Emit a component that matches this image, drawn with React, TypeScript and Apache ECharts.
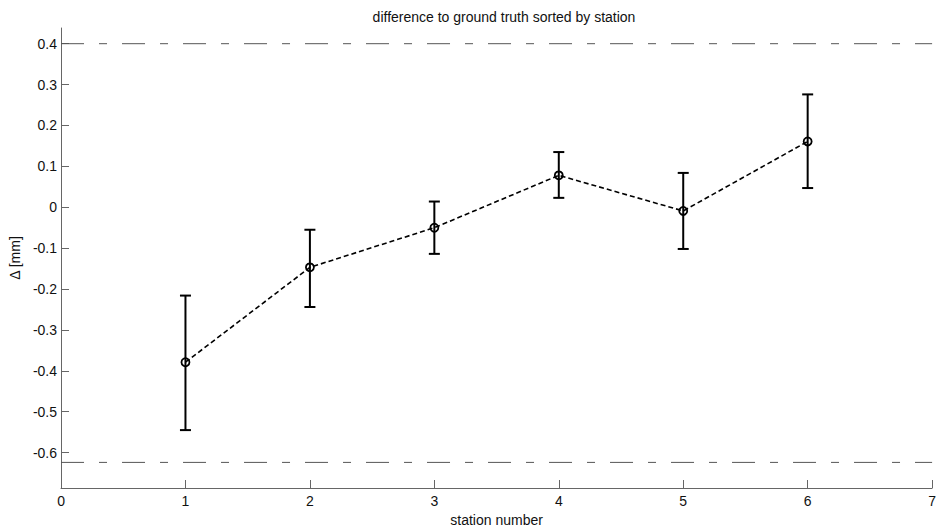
import React, { useEffect, useRef } from "react";
import * as echarts from "echarts";

const stations = [1, 2, 3, 4, 5, 6];
const meanDiff = [-0.379, -0.147, -0.05, 0.078, -0.009, 0.161];
const lowerErr = [-0.545, -0.244, -0.114, 0.023, -0.102, 0.047];
const upperErr = [-0.216, -0.055, 0.014, 0.135, 0.084, 0.276];
const upperLimit = 0.4;
const lowerLimit = -0.624;
const yTicks = [-0.6, -0.5, -0.4, -0.3, -0.2, -0.1, 0, 0.1, 0.2, 0.3, 0.4];
const xRange = [0, 7];
const yRange = [-0.6866, 0.4384];

const FONT = "'Liberation Sans', Arial, sans-serif";
const FS = 14;

export default function App() {
  const ref = useRef<HTMLDivElement>(null);
  useEffect(() => {
    if (!ref.current) return;
    const chart = echarts.init(ref.current, undefined, { renderer: "svg" });
    const errData = stations.map((s, i) => [s, lowerErr[i], upperErr[i]]);
    const limitStyle = {
      color: "#555",
      width: 1,
      type: [23, 15, 8, 15] as any,
    };
    chart.setOption({
      animation: false,
      backgroundColor: "#fff",
      textStyle: { fontFamily: FONT },
      title: {
        text: "difference to ground truth sorted by station",
        left: 499,
        textAlign: "center",
        top: 5,
        textStyle: { fontFamily: FONT, fontSize: FS, fontWeight: "normal", color: "#111" },
      },
      grid: { left: 60, right: 1, top: 28, bottom: 40, containLabel: false },
      xAxis: {
        type: "value",
        min: xRange[0],
        max: xRange[1],
        interval: 1,
        name: "station number",
        nameLocation: "middle",
        nameGap: 25,
        nameTextStyle: { fontFamily: FONT, fontSize: FS, color: "#111" },
        axisLine: { show: true, onZero: false, lineStyle: { color: "#666", width: 1 } },
        axisTick: { show: true, inside: true, length: 8, lineStyle: { color: "#666" } },
        axisLabel: { fontFamily: FONT, fontSize: FS, color: "#111", margin: 6 },
        splitLine: { show: false },
      },
      yAxis: {
        type: "value",
        min: yRange[0],
        max: yRange[1],
        name: "Δ [mm]",
        nameLocation: "middle",
        nameGap: 36,
        nameRotate: 90,
        nameTextStyle: { fontFamily: FONT, fontSize: FS, color: "#111" },
        axisLine: { show: true, onZero: false, lineStyle: { color: "#666", width: 1 } },
        axisTick: {
          show: true,
          inside: true,
          length: 8,
          lineStyle: { color: "#666" },
          customValues: yTicks,
        },
        axisLabel: {
          fontFamily: FONT,
          fontSize: FS,
          color: "#111",
          margin: 4,
          customValues: yTicks,
          formatter: (v: number) => {
            const r = Math.round(v * 10) / 10;
            return r === 0 ? "0" : String(r);
          },
        },
        splitLine: { show: false },
      },
      series: [
        {
          type: "line",
          data: [[xRange[0], upperLimit], [xRange[1], upperLimit]],
          showSymbol: false,
          symbol: "none",
          lineStyle: limitStyle,
          silent: true,
          z: 1,
        },
        {
          type: "line",
          data: [[xRange[0], lowerLimit], [xRange[1], lowerLimit]],
          showSymbol: false,
          symbol: "none",
          lineStyle: limitStyle,
          silent: true,
          z: 1,
        },
        {
          type: "custom",
          data: errData,
          z: 2,
          renderItem: (params: any, api: any) => {
            const x = api.value(0);
            const lo = api.coord([x, api.value(1)]);
            const hi = api.coord([x, api.value(2)]);
            const half = 5.5;
            const style = { stroke: "#000", lineWidth: 2, fill: "none" };
            return {
              type: "group",
              children: [
                { type: "line", shape: { x1: lo[0], y1: lo[1], x2: hi[0], y2: hi[1] }, style },
                { type: "line", shape: { x1: lo[0] - half, y1: lo[1], x2: lo[0] + half, y2: lo[1] }, style },
                { type: "line", shape: { x1: hi[0] - half, y1: hi[1], x2: hi[0] + half, y2: hi[1] }, style },
              ],
            };
          },
        },
        {
          type: "line",
          data: stations.map((s, i) => [s, meanDiff[i]]),
          symbol: "circle",
          symbolSize: 8,
          itemStyle: { color: "transparent", borderColor: "#000", borderWidth: 1.8 },
          lineStyle: { color: "#000", width: 1.6, type: [5, 3] as any },
          z: 3,
        },
      ],
    });
    return () => chart.dispose();
  }, []);
  return (
    <div
      ref={ref}
      style={{ position: "fixed", left: 0, top: 0, width: 939, height: 532, background: "#fff" }}
    />
  );
}
